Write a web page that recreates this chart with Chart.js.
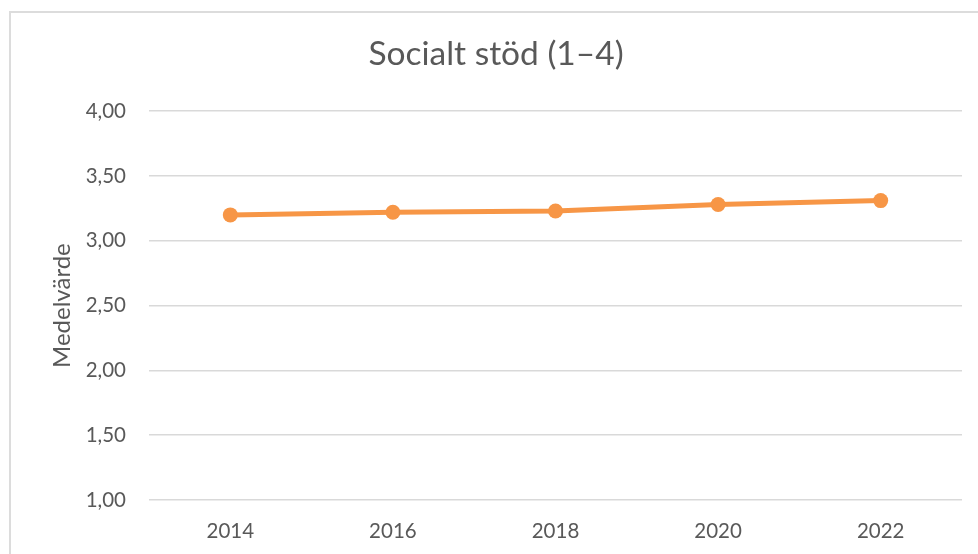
<!DOCTYPE html>
<html>
<head>
<meta charset="utf-8">
<script src="https://cdn.jsdelivr.net/npm/chart.js@4"></script>
<style>
  html, body { margin:0; padding:0; background:#fff; }
  #frame { position:absolute; left:9px; top:11px; width:1000px; height:600px; border:2px solid #dcdcdc; box-sizing:border-box; }
  #wrap { position:absolute; left:0; top:0; width:978px; height:554px; }
</style>
</head>
<body>
<div id="frame"></div>
<div id="wrap"><canvas id="chart" width="978" height="554"></canvas></div>
<script>
// socialt stöd, medelvärde per år
const years = ['2014', '2016', '2018', '2020', '2022'];
const medel = [3.20, 3.22, 3.23, 3.28, 3.31];
const yTicks = [1.0, 1.5, 2.0, 2.5, 3.0, 3.5, 4.0];

const textColor = '#595959';
const fnt = 'Lato, "Open Sans", sans-serif';

const ctx = document.getElementById('chart').getContext('2d');
new Chart(ctx, {
  type: 'line',
  data: {
    labels: years,
    datasets: [{
      label: 'Medelvärde',
      data: medel,
      borderColor: '#F79646',
      backgroundColor: '#F79646',
      borderWidth: 5,
      pointRadius: 7.5,
      pointBackgroundColor: '#F79646',
      pointBorderWidth: 0,
      tension: 0,
      fill: false
    }]
  },
  options: {
    responsive: false,
    animation: false,
    layout: { padding: { left: 30, right: 16, top: 0, bottom: 10 } },
    plugins: {
      legend: { display: false },
      tooltip: { enabled: false },
      title: {
        display: true,
        text: 'Socialt stöd (1–4)',
        color: textColor,
        font: { family: fnt, size: 33.5, weight: 'normal' },
        padding: { top: 34, bottom: 37 }
      }
    },
    scales: {
      x: {
        offset: true,
        afterFit: s => { s.height = 44; },
        grid: { display: false, drawTicks: false },
        border: { display: false },
        ticks: { color: textColor, font: { family: fnt, size: 20.5 }, padding: 19, maxRotation: 0 }
      },
      y: {
        min: 1, max: 4,
        afterBuildTicks: s => { s.ticks = yTicks.map(v => ({ value: v })); },
        afterFit: s => { s.width = 119; },
        grid: { color: '#d9d9d9', lineWidth: 1.5, drawTicks: false },
        border: { display: false },
        ticks: {
          color: textColor,
          font: { family: fnt, size: 20.5 },
          padding: 23,
          callback: v => v.toFixed(2).replace('.', ',')
        },
        title: {
          display: true,
          text: 'Medelvärde',
          color: textColor,
          font: { family: fnt, size: 24 },
          padding: { top: 18, bottom: 0 }
        }
      }
    }
  }
});
</script>
</body>
</html>
